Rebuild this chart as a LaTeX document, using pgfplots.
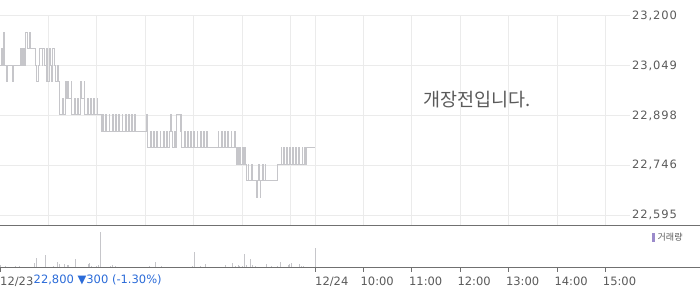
\documentclass[border=0pt]{standalone}
\usepackage{fontspec}
\setmainfont{DejaVu Sans}
\newfontfamily\kr{Noto Sans CJK KR}
\newfontfamily\numf[LetterSpace=8]{DejaVu Sans}
\usepackage{pgfplots}
\pgfplotsset{compat=1.18}
\definecolor{gridc}{HTML}{EBEBEB}
\definecolor{linec}{HTML}{C6C6CA}
\definecolor{axc}{HTML}{707070}
\definecolor{txt}{HTML}{5A5A5A}
\definecolor{blu}{HTML}{2B6BD8}
\definecolor{leg}{HTML}{9B8BCB}
\begin{document}
\begin{tikzpicture}[x=1pt,y=1pt]
\useasboundingbox (0pt,0pt) rectangle (700pt,289pt);
% price panel
\begin{axis}[at={(0pt,64pt)}, anchor=south west, scale only axis,
  width=630pt, height=209pt,
  xmin=0, xmax=780, ymin=22564.6, ymax=23200,
  axis line style={draw=none},
  xtick={60,120,180,240,300,360,390,450,510,570,630,690,750},
  xticklabels={},
  ytick={22595,22746.25,22897.5,23048.75,23200},
  yticklabels={{22,595},{22,746},{22,898},{23,049},{23,200}},
  scaled y ticks=false,
  ytick pos=right, yticklabel pos=right,
  major tick length=0pt,
  grid=major, grid style={gridc, line width=1pt},
  yticklabel style={anchor=west, inner sep=0pt, xshift=2pt,
    font=\numf\fontsize{11.5}{12}\selectfont, text=txt},
  /pgf/number format/assume math mode=true]
\addplot[const plot, linec, line width=0.8pt, mark=none] coordinates {
(0,23050)(2,23100)(3,23050)(4,23150)(5,23100)(6,23050)(8,23000)(9,23050)(15,23000)(16,23050)(25,23100)(26,23050)(27,23100)(28,23050)(29,23100)(30,23050)(32,23150)(34,23100)(36,23150)(38,23100)(44,23050)(45,23000)(47,23050)(49,23100)(52,23050)(53,23100)(55,23050)(57,23000)(58,23100)(59,23000)(61,23100)(62,23050)(64,23000)(65,23100)(67,23050)(69,23000)(71,23050)(72,23000)
(74,22900)(77,22950)(78,22900)(81,23000)(82,22950)(84,23000)(85,22950)(88,23000)(89,22900)(92,22950)(93,22900)(96,22950)(97,22900)(100,23000)(101,22950)(104,23000)(105,22900)(108,22950)(109,22900)(112,22950)(113,22900)(116,22950)(117,22900)(120,22950)(121,22900)
(125,22850)(127,22900)(128,22850)(131,22900)(132,22850)(135,22900)(136,22850)(139,22900)(140,22850)(143,22900)(144,22850)(147,22900)(148,22850)(151,22900)(152,22850)(155,22900)(156,22850)(159,22900)(160,22850)(163,22900)(164,22850)(167,22900)(168,22850)(181,22900)
(183,22800)(186,22850)(187,22800)(190,22850)(191,22800)(194,22850)(195,22800)(198,22850)(199,22800)(202,22850)(203,22800)(206,22850)(207,22800)(210,22850)(211,22900)(212,22850)(214,22800)(216,22850)(217,22800)(219,22900)(223,22850)(224,22900)(225,22800)(228,22850)(229,22800)(232,22850)(233,22800)(236,22850)(237,22800)(240,22850)(241,22800)(244,22850)(245,22800)(248,22850)(249,22800)(252,22850)(253,22800)(256,22850)(257,22800)(270,22850)(271,22800)(274,22850)(275,22800)(278,22850)(279,22800)(282,22850)(283,22800)(286,22850)(287,22800)(290,22850)(291,22800)
(293,22750)(294,22800)(295,22750)(297,22800)(298,22750)(300,22800)(301,22750)(303,22800)(304,22750)
(305,22700)(307,22750)(308,22700)(311,22750)(312,22700)(318,22650)(319,22700)(320,22750)(321,22700)(322,22650)(323,22700)(325,22750)(326,22700)(328,22750)(329,22700)
(344,22750)(348,22800)(349,22750)(351,22800)(352,22750)(355,22800)(356,22750)(358,22800)(359,22750)(362,22800)(363,22750)(366,22800)(367,22750)(370,22800)(371,22750)(374,22800)(375,22750)(377,22800)(378,22750)(379,22800)(390,22800)
};
\end{axis}
% volume panel
\begin{axis}[at={(0pt,21.3pt)}, anchor=south west, scale only axis,
  width=630pt, height=42.7pt,
  xmin=0, xmax=780, ymin=0, ymax=42.7,
  axis line style={draw=none},
  ytick=\empty,
  xtick={0,390,450,510,570,630,690,750},
  xticklabels={\hspace*{3pt}12/23,\hspace*{3pt}12/24,10:00,11:00,12:00,13:00,14:00,15:00},
  xtick pos=bottom, tick align=outside,
  major tick length=4pt,
  xtick style={axc, line width=1pt},
  xticklabel style={anchor=north west, inner sep=0pt, xshift=-3pt, yshift=-5.5pt,
    font=\fontsize{11.5}{12}\selectfont, text=txt},
  /pgf/number format/assume math mode=true]
\addplot[ycomb, linec, line width=1pt, mark=none] coordinates {
(0,2.3)(5,1)(7,1.3)(9,0.7)(12,0.7)(19,1.3)(21,0.7)(24,1.7)(31,0.7)(33,0.7)(35,0.7)(40,1)(43,5)(45,9.7)(50,0.7)(56,13)(60,0.7)(63,1)(66,1.7)(68,1)(71,6)(74,3.7)(76,1)(80,3.7)(83,2.3)(85,2.7)(89,0.7)(91,1)(93,8.7)(97,0.7)(101,1)(106,1)(109,3.7)(111,5)(113,2)(116,1)(120,1.3)(122,2.3)(124,7)(125,35.7)(128,0.7)(132,0.7)(136,0.7)(137,1.7)(139,2.7)(142,1)(143,2)(147,0.7)(151,0.7)(157,0.7)(163,0.7)(169,0.7)(175,0.7)(182,0.7)(185,2)(192,6)(194,0.7)(200,2)(206,0.7)(210,0.7)(215,0.7)(219,0.7)(223,0.7)(229,0.7)(235,0.7)(238,1.7)(241,15.7)(243,1)(248,1.7)(252,0.7)(255,3.7)(258,0.7)(262,0.7)(264,0.7)(270,0.7)(279,2.7)(285,0.7)(288,4.7)(291,1.7)(295,2.7)(297,2)(300,1.7)(303,13.7)(305,2.7)(307,0.7)(310,8.7)(312,2.3)(316,1.7)(320,0.7)(326,0.7)(330,3.7)(332,0.7)(336,1.7)(340,0.7)(344,1.7)(347,6)(351,0.7)(354,0.7)(357,3)(359,3.7)(361,4.7)(365,0.7)(371,3.7)(373,2)(376,1.7)(380,0.7)(390,19.7)
};
\end{axis}
% frame lines
\draw[axc, line width=1pt] (0pt,64pt) -- (700pt,64pt);
\draw[axc, line width=1pt] (0pt,21.3pt) -- (700pt,21.3pt);
% texts
\node[font=\kr\fontsize{18.5}{19}\selectfont, text=txt] at (477.5pt,189.7pt) {개장전입니다.};
\fill[leg] (652pt,47pt) rectangle (655pt,56pt);
\node[anchor=west, inner sep=0pt, font=\kr\fontsize{9}{10}\selectfont, text=txt] at (657.5pt,51.5pt) {거래량};
\node[anchor=north west, inner sep=0pt, font=\fontsize{11.5}{12}\selectfont, text=blu] at (33.5pt,14.3pt) {22,800 ▼300 (-1.30\%)};
\end{tikzpicture}
\end{document}
